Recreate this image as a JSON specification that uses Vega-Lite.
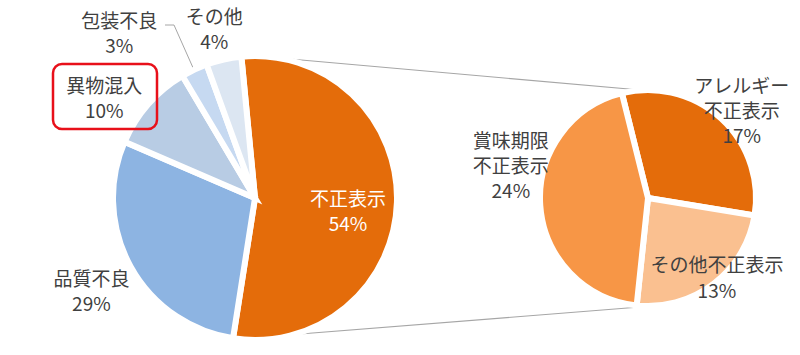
{
  "$schema": "https://vega.github.io/schema/vega-lite/v6.json",
  "width": 800,
  "height": 355,
  "autosize": {"type": "none"},
  "padding": 0,
  "background": "white",
  "config": {"view": {"stroke": null}, "text": {"font": "Noto Sans CJK JP"}},
  "datasets": {
    "main": [
      {"pie": "main", "item": "不正表示", "value": 54, "ord": 1, "label": "不正表示\n54%"},
      {"pie": "main", "item": "品質不良", "value": 29, "ord": 2, "label": "品質不良\n29%"},
      {"pie": "main", "item": "異物混入", "value": 10, "ord": 3, "label": "異物混入\n10%"},
      {"pie": "main", "item": "包装不良", "value": 3, "ord": 4, "label": "包装不良\n3%"},
      {"pie": "main", "item": "その他", "value": 4, "ord": 5, "label": "その他\n4%"}
    ],
    "sub": [
      {"pie": "sub", "item": "アレルギー不正表示", "value": 17, "ord": 1, "label": "アレルギー\n不正表示\n17%"},
      {"pie": "sub", "item": "その他不正表示", "value": 13, "ord": 2, "label": "その他不正表示\n13%"},
      {"pie": "sub", "item": "賞味期限不正表示", "value": 24, "ord": 3, "label": "賞味期限\n不正表示\n24%"}
    ],
    "link": [{"pie": "main", "to": "sub"}]
  },
  "encoding": {
    "x": {"field": "pie", "type": "nominal", "scale": {"type": "point", "domain": ["main", "sub"], "range": [255, 648], "padding": 0}, "axis": null},
    "y": {"field": "pie", "type": "nominal", "scale": {"type": "point", "domain": ["main", "sub"], "range": [198, 198], "padding": 0}, "axis": null}
  },
  "layer": [
    {
      "data": {"name": "link"},
      "mark": {"type": "rule", "color": "#a6a6a6", "strokeWidth": 1.2, "xOffset": 35, "yOffset": -139, "x2Offset": -8, "y2Offset": -108},
      "encoding": {"x2": {"field": "to"}, "y2": {"field": "to"}}
    },
    {
      "data": {"name": "link"},
      "mark": {"type": "rule", "color": "#a6a6a6", "strokeWidth": 1.2, "xOffset": 45, "yOffset": 136, "x2Offset": -8, "y2Offset": 109},
      "encoding": {"x2": {"field": "to"}, "y2": {"field": "to"}}
    },
    {
      "data": {"name": "link"},
      "mark": {"type": "rule", "color": "#a6a6a6", "strokeWidth": 1, "xOffset": -90, "yOffset": -173, "x2Offset": -81, "y2Offset": -173},
      "encoding": {"x2": {"field": "pie"}, "y2": {"field": "pie"}}
    },
    {
      "data": {"name": "link"},
      "mark": {"type": "rule", "color": "#a6a6a6", "strokeWidth": 1, "xOffset": -81, "yOffset": -173, "x2Offset": -61, "y2Offset": -128},
      "encoding": {"x2": {"field": "pie"}, "y2": {"field": "pie"}}
    },
    {
      "data": {"name": "main"},
      "encoding": {
        "theta": {"field": "value", "type": "quantitative", "stack": true, "scale": {"range": [-0.096, 6.187]}},
        "order": {"field": "ord", "type": "quantitative"},
        "color": {"field": "item", "type": "nominal", "legend": null,
          "scale": {"domain": ["不正表示", "品質不良", "異物混入", "包装不良", "その他"], "range": ["#e46c0a", "#8db4e2", "#b8cce4", "#c6d9f1", "#dce6f2"]}}
      },
      "layer": [
        {"mark": {"type": "arc", "outerRadius": 142, "stroke": "white", "strokeWidth": 6}},
        {"mark": {"type": "text", "radius": 93, "thetaOffset": -0.009, "fontSize": 19, "lineHeight": 25, "lineBreak": "\n", "baseline": "middle"},
         "encoding": {"color": {"value": "white"}, "text": {"condition": {"test": "datum.item === '不正表示'", "field": "label"}, "value": ""}}},
        {"mark": {"type": "text", "radius": 183, "thetaOffset": 0.04, "fontSize": 19, "lineHeight": 25, "lineBreak": "\n", "baseline": "middle"},
         "encoding": {"color": {"value": "#404040"}, "text": {"condition": {"test": "datum.item === '品質不良'", "field": "label"}, "value": ""}}},
        {"mark": {"type": "text", "radius": 187, "thetaOffset": -0.087, "fontSize": 19, "lineHeight": 25, "lineBreak": "\n", "baseline": "middle"},
         "encoding": {"color": {"value": "#404040"}, "text": {"condition": {"test": "datum.item === '異物混入'", "field": "label"}, "value": ""}}},
        {"mark": {"type": "text", "radius": 222, "thetaOffset": -0.216, "fontSize": 19, "lineHeight": 25, "lineBreak": "\n", "baseline": "middle"},
         "encoding": {"color": {"value": "#404040"}, "text": {"condition": {"test": "datum.item === '包装不良'", "field": "label"}, "value": ""}}},
        {"mark": {"type": "text", "radius": 185, "thetaOffset": 0, "fontSize": 19, "lineHeight": 25, "lineBreak": "\n", "baseline": "middle"},
         "encoding": {"color": {"value": "#404040"}, "text": {"condition": {"test": "datum.item === 'その他'", "field": "label"}, "value": ""}}}
      ]
    },
    {
      "data": {"name": "sub"},
      "encoding": {
        "theta": {"field": "value", "type": "quantitative", "stack": true, "scale": {"range": [-0.244, 6.039]}},
        "order": {"field": "ord", "type": "quantitative"},
        "color": {"field": "item", "type": "nominal", "legend": null,
          "scale": {"domain": ["アレルギー不正表示", "その他不正表示", "賞味期限不正表示"], "range": ["#e46c0a", "#fac090", "#f79646"]}}
      },
      "layer": [
        {"mark": {"type": "arc", "outerRadius": 108, "stroke": "white", "strokeWidth": 6}},
        {"mark": {"type": "text", "radius": 145, "thetaOffset": -0.042, "fontSize": 19, "lineHeight": 25, "lineBreak": "\n", "baseline": "middle"},
         "encoding": {"color": {"value": "#404040"}, "text": {"condition": {"test": "datum.item === 'アレルギー不正表示'", "field": "label"}, "value": ""}}},
        {"mark": {"type": "text", "radius": 96.5, "thetaOffset": -0.144, "fontSize": 19, "lineHeight": 26, "lineBreak": "\n", "baseline": "middle"},
         "encoding": {"color": {"value": "#404040"}, "text": {"condition": {"test": "datum.item === 'その他不正表示'", "field": "label"}, "value": ""}}},
        {"mark": {"type": "text", "radius": 148, "thetaOffset": 0.455, "fontSize": 19, "lineHeight": 25, "lineBreak": "\n", "baseline": "middle"},
         "encoding": {"color": {"value": "#404040"}, "text": {"condition": {"test": "datum.item === '賞味期限不正表示'", "field": "label"}, "value": ""}}}
      ]
    },
    {
      "data": {"name": "link"},
      "mark": {"type": "rect", "fill": null, "fillOpacity": 0, "stroke": "#e8101a", "strokeWidth": 2.5, "cornerRadius": 9,
        "xOffset": -202, "x2Offset": -98, "yOffset": -134, "y2Offset": -69},
      "encoding": {"x2": {"field": "pie"}, "y2": {"field": "pie"}}
    }
  ],
  "resolve": {"scale": {"theta": "independent", "color": "independent"}}
}
